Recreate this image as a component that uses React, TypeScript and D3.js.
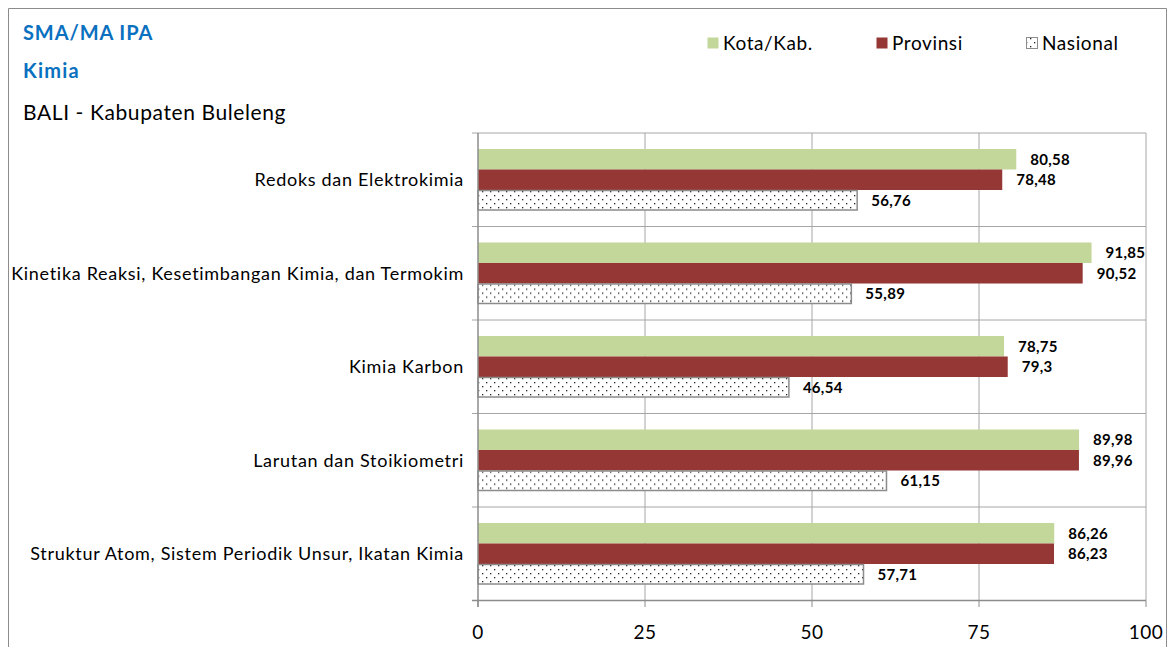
import * as d3 from "d3";

const categories = [
  "Redoks dan Elektrokimia",
  "Kinetika Reaksi, Kesetimbangan Kimia, dan Termokim",
  "Kimia Karbon",
  "Larutan dan Stoikiometri",
  "Struktur Atom, Sistem Periodik Unsur, Ikatan Kimia",
];
const kotaKab = [80.58, 91.85, 78.75, 89.98, 86.26];
const provinsi = [78.48, 90.52, 79.3, 89.96, 86.23];
const nasional = [56.76, 55.89, 46.54, 61.15, 57.71];
const xTicks = [0, 25, 50, 75, 100];

const seriesNames = ["Kota/Kab.", "Provinsi", "Nasional"];

const W = 1176;
const H = 647;
const font = "Lato, 'Open Sans', sans-serif";

export default function App() {
  const x = d3.scaleLinear().domain([0, 100]).range([478, 1146]);
  const y = d3
    .scaleBand<string>()
    .domain(categories)
    .range([133, 600.5])
    .paddingInner(0.342)
    .paddingOuter(0.171);
  const step = y.step();
  const inner = d3
    .scaleBand<number>()
    .domain([0, 1, 2])
    .range([0, y.bandwidth()]);

  const series = [
    { name: seriesNames[0], values: kotaKab, fill: "#c4d79b", stroke: "none" },
    { name: seriesNames[1], values: provinsi, fill: "#953735", stroke: "none" },
    { name: seriesNames[2], values: nasional, fill: "url(#dots)", stroke: "#8c8c8c" },
  ];

  // garis batas antar kategori
  const bounds = categories.map((c) => (y(c) as number) - (step - y.bandwidth()) / 2);
  bounds.push(600.5);

  const fmt = (v: number) => String(v).replace(".", ",");

  return (
    <svg
      width={W}
      height={H}
      style={{ position: "absolute", left: 0, top: 0 }}
      fontFamily={font}
    >
      <defs>
        <pattern id="dots" width={8} height={8} patternUnits="userSpaceOnUse">
          <rect width={8} height={8} fill="#fff" />
          <rect x={2} y={2} width={1.3} height={1.3} fill="#222" />
          <rect x={6} y={6} width={1.3} height={1.3} fill="#222" />
        </pattern>
      </defs>
      <rect x={0} y={0} width={W} height={H} fill="#fff" />
      {/* frame */}
      <path d={`M8.5,${H} V8.5 H1166.5 V${H}`} fill="none" stroke="#8c8c8c" />

      {/* titles */}
      <text x={23} y={40} fill="#0a70c0" fontWeight="bold" fontSize={20} letterSpacing={0.9}>
        SMA/MA IPA
      </text>
      <text x={23} y={78} fill="#0a70c0" fontWeight="bold" fontSize={20} letterSpacing={1.2}>
        Kimia
      </text>
      <text x={23} y={120} fill="#000" fontSize={21} letterSpacing={0.6}>
        BALI - Kabupaten Buleleng
      </text>

      {/* legend */}
      {series.map((s, i) => {
        const lx = [707, 876, 1026][i];
        return (
          <g key={s.name}>
            <rect
              x={lx + 0.5}
              y={37.5}
              width={11}
              height={11}
              fill={s.fill}
              stroke={s.stroke}
            />
            <text x={lx + 16} y={50} fontSize={19} letterSpacing={0.6} fill="#000">
              {s.name}
            </text>
          </g>
        );
      })}

      {/* gridlines */}
      {xTicks.slice(1).map((t) => (
        <line key={t} x1={x(t)} x2={x(t)} y1={133} y2={600.5} stroke="#a6a6a6" />
      ))}
      {bounds.map((b, i) => (
        <line key={i} x1={472} x2={1146} y1={b} y2={b} stroke="#a6a6a6" />
      ))}
      {xTicks.map((t) => (
        <line key={"t" + t} x1={x(t)} x2={x(t)} y1={600.5} y2={607} stroke="#8c8c8c" />
      ))}

      {/* bars */}
      {categories.map((c, ci) => (
        <g key={c} transform={`translate(0,${y(c)})`}>
          {series.map((s, si) => {
            const by = inner(si) as number;
            const bh = inner.bandwidth();
            const v = s.values[ci];
            return (
              <g key={s.name}>
                <rect
                  x={x(0)}
                  y={by + (s.stroke === "none" ? 0 : 0.5)}
                  width={x(v) - x(0)}
                  height={bh - (s.stroke === "none" ? 0 : 1)}
                  fill={s.fill}
                  stroke={s.stroke}
                  strokeWidth={1.5}
                />
                <text
                  x={x(v) + 14}
                  y={by + bh / 2}
                  dy="0.36em"
                  fontSize={15}
                  fontWeight="bold"
                  letterSpacing={0.3}
                  fill="#000"
                >
                  {fmt(v)}
                </text>
              </g>
            );
          })}
        </g>
      ))}

      {/* axis line */}
      <line x1={478} x2={478} y1={133} y2={607} stroke="#8c8c8c" strokeWidth={1.5} />
      <line x1={472} x2={1146} y1={600.5} y2={600.5} stroke="#8c8c8c" strokeWidth={1.5} />

      {/* category labels */}
      {categories.map((c) => (
        <text
          key={c}
          x={464}
          y={(y(c) as number) + y.bandwidth() / 2}
          dy="0.36em"
          textAnchor="end"
          fontSize={18}
          letterSpacing={0.7}
          fill="#000"
        >
          {c}
        </text>
      ))}

      {/* tick labels */}
      {xTicks.map((t) => (
        <text
          key={"l" + t}
          x={x(t)}
          y={639}
          textAnchor="middle"
          fontSize={19}
          letterSpacing={0.5}
          fill="#000"
        >
          {t}
        </text>
      ))}
    </svg>
  );
}
